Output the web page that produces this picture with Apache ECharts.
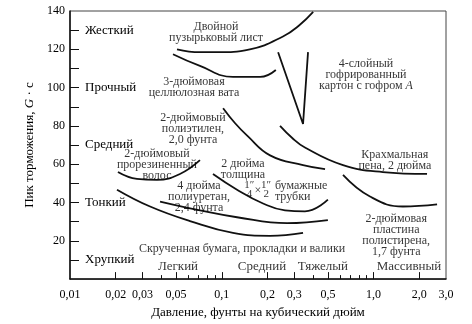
<!DOCTYPE html>
<html><head><meta charset="utf-8">
<script src="https://cdn.jsdelivr.net/npm/echarts@6/dist/echarts.min.js"></script>
<style>html,body{margin:0;padding:0;background:#fff}#c{width:472px;height:324px}</style>
</head><body><div id="c"></div>
<script>
// ---- data ----
const xTickValues = [0.01, 0.02, 0.03, 0.05, 0.1, 0.2, 0.3, 0.5, 1, 2, 3];
const xTickLabels = ['0,01', '0,02', '0,03', '0,05', '0,1', '0,2', '0,3', '0,5', '1,0', '2,0', '3,0'];
const xMajorTicks = [0.02, 0.03, 0.05, 0.1, 0.2, 0.3, 0.5, 1, 2];
const xMinorTicks = [0.04, 0.06, 0.07, 0.08, 0.09, 0.4, 0.6, 0.7, 0.8, 0.9];
const yTickValues = [10, 20, 30, 40, 50, 60, 70, 80, 90, 100, 110, 120, 130];
const yLabelValues = [20, 40, 60, 80, 100, 120, 140];
const yClassValues = [10, 40, 70, 100, 130];
const yClassLabels = ['Хрупкий', 'Тонкий', 'Средний', 'Прочный', 'Жесткий'];
const xClassValues = [0.0515, 0.184, 0.464, 1.71];
const xClassLabels = ['Легкий', 'Средний', 'Тяжелый', 'Массивный'];

const bubbleSheet = [[0.0507,120],[0.0718,118.5],[0.093,118.5],[0.153,120],[0.253,126.7],[0.327,132.8],[0.40,139.5]];
const celluloseWadding = [[0.0477,117.4],[0.0718,111.3],[0.1185,105.6],[0.179,105.6],[0.227,109.2]];
const corrugatedBoard = [[0.235,118.5],[0.343,81],[0.37,118.5]];
const polyethylene = [[0.102,89.2],[0.122,81.5],[0.147,74.9],[0.208,64.6],[0.343,59.5],[0.479,57.4]];
const starchFoam = [[0.242,80],[0.29,73.8],[0.353,68.7],[0.629,59.5],[1.15,55.9],[2.25,54.9]];
const rubberizedHair = [[0.0207,55.9],[0.0276,52.3],[0.0374,51.8],[0.053,54.9],[0.0718,62.1]];
const paperTubes = [[0.0875,54.9],[0.126,46.7],[0.187,39.5],[0.261,35.9],[0.353,35.4],[0.50,41.5]];
const polyurethane = [[0.0392,40.5],[0.0718,35.9],[0.126,32.3],[0.269,29.2],[0.50,30.8]];
const twistedPaper = [[0.0204,46.7],[0.0337,37.9],[0.0617,30.3],[0.1185,24.1],[0.208,22.6],[0.343,24.1]];
const polystyrene = [[0.629,54.4],[0.947,43.1],[1.56,37.9],[2.62,39]];

const curveNames = ['Двойной пузырьковый лист','3-дюймовая целлюлозная вата','4-слойный гофрированный картон','2-дюймовый полиэтилен','Крахмальная пена','Прорезиненный волос','Бумажные трубки','Полиуретан','Скрученная бумага','Пластина полистирена'];
const curves = [bubbleSheet, celluloseWadding, corrugatedBoard, polyethylene, starchFoam, rubberizedHair, paperTubes, polyurethane, twistedPaper, polystyrene];
const curveSmooth = [true, true, false, true, true, true, true, true, true, true];

const noteTexts = ['Двойной\nпузырьковый лист', '3-дюймовая\nцеллюлозная вата', '2-дюймовый\nполиэтилен,\n2,0 фунта',
  '4-слойный\nгофрированный\nкартон с гофром {i|A}', 'Крахмальная\nпена, 2 дюйма', '2-дюймовый\nпрорезиненный\nволос',
  '2 дюйма\nтолщина', '4 дюйма\nполиуретан,\n2,4 фунта', 'Скрученная бумага, прокладки и валики',
  '2-дюймовая\nпластина\nполистирена,\n1,7 фунта', 'бумажные\nтрубки', '1″\n4', '×', '1″\n2'];
const noteX = [0.0916, 0.0656, 0.0646, 0.891, 1.38, 0.0374, 0.138, 0.0708, 0.136, 1.41, 0.224, 0.152, 0.173, 0.196];
const noteY = [130.3, 101.5, 80, 108.2, 63.6, 61.3, 59, 44.3, 17.4, 24.6, 47.2, 48.2, 47.6, 48.2];

// ---- chart ----
const font = 'Liberation Serif';
const ink = '#000';
function nearLog(v, arr) {
  for (let i = 0; i < arr.length; i++) if (Math.abs(Math.log10(v) - Math.log10(arr[i])) < 1e-6) return i;
  return -1;
}
const chart = echarts.init(document.getElementById('c'), null, {renderer: 'canvas'});
const lineSeries = curves.map((d, i) => ({
  type: 'line', name: curveNames[i], data: d, xAxisIndex: 0, yAxisIndex: 0,
  smooth: curveSmooth[i] ? 0.45 : false, showSymbol: false, symbol: 'none', silent: true,
  lineStyle: {color: '#111', width: 1.8}
}));
const notes = noteTexts.map((t, i) => {
  const item = {value: [noteX[i], noteY[i]], name: t};
  if (i === 10) item.label = {align: 'left'};
  if (i === 11 || i === 13) item.label = {lineHeight: 9, fontSize: 11};
  return item;
});
const xClassItems = xClassLabels.map((t, i) => ({value: [xClassValues[i], 8.2], name: t, label: {fontSize: 13}}));
const option = {
  animation: false,
  backgroundColor: '#fff',
  textStyle: {fontFamily: font, color: ink},
  grid: {left: 70, right: 26, top: 11, bottom: 40, show: true, borderColor: '#444', borderWidth: 1},
  xAxis: [{
    type: 'log', logBase: 10, min: 0.01, max: 3,
    name: 'Давление, фунты на кубический дюйм', nameLocation: 'middle', nameGap: 25,
    nameTextStyle: {fontFamily: font, fontSize: 13, color: ink},
    axisLine: {show: true, lineStyle: {color: '#111', width: 1.5}},
    axisTick: {show: true, inside: true, length: 7, customValues: xMajorTicks, lineStyle: {color: '#111', width: 1}},
    axisLabel: {show: true, customValues: xTickValues, margin: 10, fontFamily: font, fontSize: 12, color: ink,
      formatter: v => { const i = nearLog(v, xTickValues); return i >= 0 ? xTickLabels[i] : ''; }},
    splitLine: {show: false}, minorTick: {show: false}
  }, {
    type: 'log', logBase: 10, min: 0.01, max: 3, position: 'bottom',
    axisLine: {show: false},
    axisTick: {show: true, inside: true, length: 4, customValues: xMinorTicks, lineStyle: {color: '#111', width: 1}},
    axisLabel: {show: false}, splitLine: {show: false}
  }],
  yAxis: [{
    type: 'value', min: 0, max: 140, interval: 10,
    name: 'Пик торможения, {i|G} · c', nameLocation: 'middle', nameGap: 27,
    nameTextStyle: {fontFamily: font, fontSize: 13, color: ink, rich: {i: {fontStyle: 'italic', fontFamily: font, fontSize: 13}}},
    axisLine: {show: true, lineStyle: {color: '#111', width: 1.5}},
    axisTick: {show: true, inside: true, length: 9, customValues: yTickValues, lineStyle: {color: '#111', width: 1}},
    axisLabel: {show: true, customValues: yLabelValues, margin: 5, padding: [0, 0, 4, 0], fontFamily: font, fontSize: 12, color: ink},
    splitLine: {show: false}
  }, {
    type: 'value', min: 0, max: 140, interval: 10, position: 'left',
    axisLine: {show: false}, axisTick: {show: false}, splitLine: {show: false},
    axisLabel: {show: true, inside: true, margin: 15, padding: [0, 0, 6, 0], customValues: yClassValues, fontFamily: font, fontSize: 13, color: ink,
      formatter: v => { const i = yClassValues.indexOf(v); return i >= 0 ? yClassLabels[i] : ''; }}
  }],
  series: lineSeries.concat([{
    type: 'scatter', xAxisIndex: 0, yAxisIndex: 0, symbolSize: 0, silent: true, z: 5,
    data: notes.concat(xClassItems),
    label: {show: true, position: 'inside', offset: [0, 3], formatter: '{b}', align: 'center', verticalAlign: 'middle',
      fontFamily: font, fontSize: 12, lineHeight: 11, color: ink,
      rich: {i: {fontStyle: 'italic', fontFamily: font, fontSize: 12}}}
  }])
};
chart.setOption(option);
</script></body></html>
